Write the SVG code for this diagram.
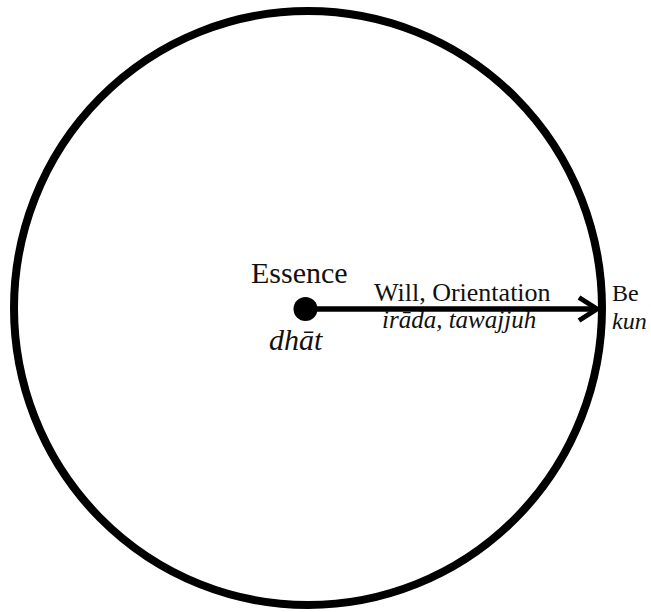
<svg xmlns="http://www.w3.org/2000/svg" width="651" height="612" viewBox="0 0 651 612">
<style>
text{font-family:"Liberation Serif","Times New Roman",serif;fill:#111}
.it{font-style:italic}
</style>
<rect width="651" height="612" fill="#fff"/>
<g id="circle">
<ellipse cx="308" cy="308" rx="294" ry="297" fill="none" stroke="#000" stroke-width="8"/>
</g>
<g id="essence">
<circle cx="305.5" cy="309" r="12" fill="#000"/>
<text x="251" y="283" font-size="30">Essence</text>
<text x="269" y="350" font-size="30" class="it">dhāt</text>
</g>
<g id="be">
<text x="612" y="301" font-size="24">Be</text>
<text x="612" y="329" font-size="24" class="it">kun</text>
</g>
<g id="connectors">
<line x1="305" y1="309" x2="594" y2="309" stroke="#000" stroke-width="5.5"/>
<path d="M579,297.5 L597,309 L579,320.5" fill="none" stroke="#000" stroke-width="5"/>
<text x="374" y="301" font-size="26">Will, Orientation</text>
<text x="382" y="328" font-size="25" class="it">irāda, tawajjuh</text>
</g>
</svg>
